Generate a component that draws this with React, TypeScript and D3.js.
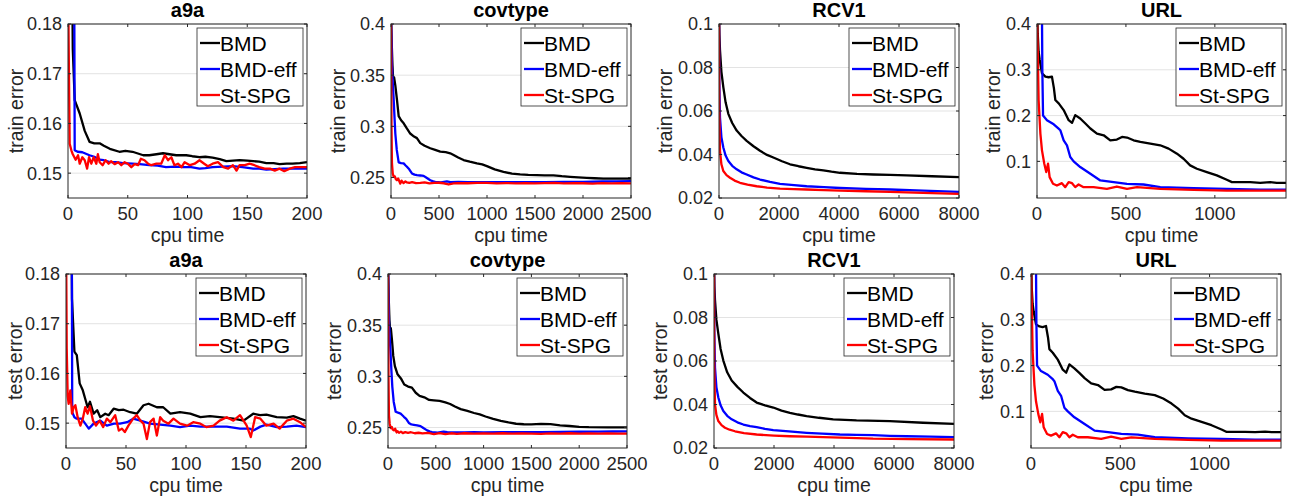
import React from "react";
import * as d3 from "d3";

type Pt = [number, number];

// ---- a9a ----
const a9aTrainBMD: Pt[] = [[3.5,0.19],[4,0.175],[5.6,0.1647],[9.8,0.162],[14,0.1585],[18,0.1563],[22,0.156],[26.5,0.156],[30,0.1555],[35,0.1549],[43,0.1543],[48,0.1545],[54,0.1543],[63,0.1536],[68,0.1536],[74,0.1538],[79.5,0.154],[85,0.1538],[90.6,0.1536],[99,0.1536],[104,0.1534],[110,0.1532],[115,0.1533],[121,0.1531],[127,0.1528],[132.5,0.1524],[138,0.1525],[143.6,0.1526],[150,0.1525],[155,0.1524],[160,0.1523],[166,0.152],[172,0.152],[177,0.1518],[183,0.1519],[188,0.1519],[194,0.152],[200,0.1522]];
const a9aTrainEff: Pt[] = [[5.2,0.19],[5.6,0.1546],[8,0.1543],[12,0.1542],[18,0.1536],[22,0.1533],[26.5,0.1527],[30,0.1526],[35,0.1522],[40,0.1522],[46,0.152],[54,0.1519],[60,0.1518],[68,0.1516],[75,0.1515],[82,0.1512],[90,0.1513],[96,0.1512],[103,0.1512],[110,0.1509],[115,0.151],[121,0.1512],[130,0.1513],[138,0.1514],[146,0.1512],[155,0.1509],[160,0.1509],[166,0.1507],[173,0.1508],[180,0.1509],[190,0.1509],[200,0.1509]];
const a9aTrainSPG: Pt[] = [[0,0.19],[0.8,0.17],[1.4,0.1559],[2.8,0.1546],[4,0.1538],[6.4,0.1527],[8.4,0.1536],[9.8,0.1519],[12,0.1532],[14,0.1526],[16,0.1509],[17.6,0.1532],[19.5,0.1519],[21.5,0.1532],[23.7,0.1519],[25,0.1538],[26.5,0.1522],[29,0.1516],[31.5,0.1526],[34,0.1519],[36,0.1524],[39,0.1518],[42,0.1522],[44.6,0.1516],[47.4,0.1522],[50,0.1519],[53,0.1512],[55.8,0.1518],[58.6,0.1516],[61,0.1529],[64,0.1526],[67,0.1519],[69.7,0.1516],[74,0.1519],[78,0.1519],[81,0.1536],[83.7,0.1526],[86.5,0.1532],[89,0.1516],[92,0.1519],[95,0.1512],[97.6,0.1522],[102,0.1516],[106,0.1519],[110,0.1526],[114,0.1519],[117,0.1514],[121,0.1519],[125.5,0.1522],[130,0.1512],[134,0.1509],[138,0.1516],[141,0.1505],[143.6,0.1516],[148,0.1516],[152,0.1519],[156,0.1516],[160,0.1512],[164.6,0.1509],[169,0.1509],[173,0.1505],[177,0.1509],[181,0.1504],[185.5,0.1509],[190,0.1512],[194,0.1512],[200,0.1512]];

const a9aTestBMD: Pt[] = [[4.6,0.19],[5,0.175],[7,0.1644],[9,0.1637],[11.4,0.158],[14,0.1566],[16,0.1549],[18,0.1532],[20,0.1543],[23,0.1519],[26,0.1526],[28.6,0.1512],[32.7,0.1519],[35.5,0.1516],[39.7,0.1529],[44,0.1526],[48,0.1527],[53.5,0.1522],[59,0.1519],[64.6,0.1536],[68.8,0.1539],[75.7,0.1532],[81,0.1532],[87,0.1519],[95,0.1522],[103.5,0.1519],[112,0.1512],[120,0.1514],[128,0.1512],[139.5,0.1509],[148,0.1505],[156,0.1519],[161.7,0.1516],[167,0.1517],[175.6,0.1512],[184,0.1511],[189.5,0.1514],[195,0.1509],[200,0.1505]];
const a9aTestEff: Pt[] = [[4.8,0.19],[5.2,0.1522],[7,0.1512],[9,0.1509],[13,0.1509],[16,0.1499],[19,0.1489],[23,0.1499],[28.6,0.1505],[34,0.1495],[40,0.1499],[45,0.1499],[51,0.1502],[56,0.1509],[62,0.1505],[70,0.1499],[78.5,0.1497],[87,0.1495],[95,0.1492],[103.5,0.1495],[112,0.1493],[123,0.1493],[134,0.1493],[145,0.1489],[153,0.1489],[156,0.1485],[162,0.1493],[167,0.1497],[175.6,0.1492],[184,0.1493],[192,0.1495],[200,0.1492]];
const a9aTestSPG: Pt[] = [[0,0.19],[0.6,0.165],[1.4,0.1555],[2.2,0.1539],[3.6,0.1566],[5,0.1519],[6.4,0.1532],[7.8,0.1536],[9.7,0.1512],[12,0.1495],[14,0.1509],[16,0.1532],[18,0.1519],[20,0.1534],[22.5,0.1505],[25,0.1495],[28,0.1505],[31,0.1492],[34,0.1509],[37,0.1502],[41,0.1516],[44,0.1485],[46.6,0.1489],[49,0.1482],[52,0.1495],[56,0.1509],[59,0.1516],[62,0.1505],[64.6,0.1499],[67.4,0.1468],[70,0.1502],[73,0.1509],[75.7,0.1475],[78.5,0.1512],[81,0.1505],[85.4,0.1499],[89.6,0.1509],[95,0.1499],[101,0.1495],[106,0.1502],[112,0.1499],[117,0.1492],[123,0.1495],[128,0.1505],[134,0.1512],[139.5,0.1505],[145,0.1516],[150.6,0.1495],[154,0.1472],[157.6,0.1512],[162,0.1509],[167,0.1495],[173,0.1499],[178,0.1489],[184,0.1505],[189.5,0.1509],[195,0.1502],[200,0.1492]];

// ---- covtype ----
const covTrainBMD: Pt[] = [[0,0.41],[8,0.38],[15,0.36],[22,0.347],[32,0.348],[45,0.34],[62,0.326],[80,0.31],[105,0.306],[132,0.303],[165,0.298],[200,0.293],[240,0.29],[270,0.2885],[305,0.2836],[350,0.281],[409,0.2786],[460,0.277],[513,0.2753],[570,0.2748],[617,0.2737],[652,0.272],[700,0.2695],[756,0.2671],[820,0.2655],[895,0.2638],[950,0.2628],[999,0.2612],[1080,0.258],[1172,0.2556],[1260,0.2538],[1345,0.253],[1430,0.2525],[1519,0.2523],[1600,0.2522],[1692,0.2522],[1780,0.2513],[1866,0.2507],[1950,0.2502],[2039,0.2497],[2120,0.2493],[2212,0.249],[2350,0.249],[2500,0.249]];
const covTrainEff: Pt[] = [[0,0.41],[10,0.359],[20,0.34],[28,0.326],[36,0.31],[45,0.293],[60,0.277],[80,0.2648],[105,0.264],[132,0.2638],[150,0.262],[166,0.2605],[190,0.258],[218,0.254],[245,0.2528],[270,0.2523],[305,0.252],[340,0.2516],[370,0.2498],[409,0.2474],[440,0.2462],[461,0.2457],[520,0.2452],[582,0.2462],[620,0.2455],[700,0.2457],[800,0.2454],[900,0.2456],[1000,0.2455],[1200,0.2456],[1400,0.2455],[1600,0.2456],[1800,0.2457],[2000,0.2458],[2200,0.2461],[2350,0.2463],[2500,0.2464]];
const covTrainSPG: Pt[] = [[0,0.41],[5,0.3],[10,0.2638],[18,0.254],[28,0.2507],[40,0.251],[50,0.2485],[62,0.2474],[75,0.249],[90,0.2455],[97,0.244],[110,0.247],[130,0.2445],[150,0.2462],[166,0.2452],[190,0.2448],[220,0.2455],[260,0.2445],[305,0.2447],[350,0.2452],[400,0.2442],[450,0.2447],[500,0.2449],[550,0.2444],[600,0.2432],[652,0.2442],[700,0.2446],[800,0.2444],[900,0.2447],[1000,0.2447],[1100,0.2443],[1200,0.2446],[1300,0.2443],[1400,0.2446],[1500,0.2442],[1600,0.2445],[1700,0.2447],[1800,0.2443],[1900,0.2446],[2000,0.2444],[2100,0.2441],[2200,0.2445],[2300,0.2443],[2400,0.2446],[2500,0.2442]];

const covTestBMD: Pt[] = [[0,0.41],[8,0.375],[15,0.355],[22,0.346],[30,0.347],[42,0.335],[55,0.32],[72,0.31],[100,0.302],[135,0.298],[170,0.292],[210,0.29],[250,0.289],[290,0.284],[330,0.281],[380,0.2795],[430,0.277],[480,0.2765],[540,0.276],[600,0.2745],[650,0.273],[700,0.2705],[760,0.268],[830,0.2662],[900,0.2642],[960,0.2628],[1020,0.2608],[1100,0.2585],[1180,0.2565],[1260,0.255],[1340,0.2537],[1420,0.2532],[1500,0.2531],[1600,0.2535],[1700,0.2533],[1800,0.2522],[1900,0.2515],[2000,0.2507],[2100,0.2503],[2300,0.2502],[2500,0.2502]];
const covTestEff: Pt[] = [[0,0.41],[10,0.355],[20,0.335],[28,0.32],[36,0.305],[45,0.29],[60,0.275],[80,0.2655],[105,0.2645],[132,0.2636],[150,0.262],[166,0.2605],[190,0.2585],[218,0.2545],[245,0.253],[270,0.2527],[305,0.2522],[340,0.2514],[370,0.2495],[409,0.2472],[440,0.246],[461,0.2455],[520,0.245],[582,0.246],[620,0.2455],[700,0.2453],[800,0.2453],[900,0.2454],[1000,0.2453],[1200,0.2454],[1400,0.2455],[1600,0.2455],[1800,0.2457],[2000,0.2459],[2200,0.246],[2350,0.2461],[2500,0.2462]];
const covTestSPG: Pt[] = [[0,0.41],[5,0.3],[10,0.262],[18,0.2535],[28,0.2495],[40,0.2505],[50,0.248],[62,0.2472],[75,0.2488],[90,0.2452],[100,0.2465],[115,0.2448],[135,0.246],[155,0.2445],[180,0.2455],[210,0.2448],[240,0.2454],[280,0.2444],[320,0.2449],[360,0.2443],[420,0.2447],[480,0.2436],[540,0.2446],[600,0.2435],[660,0.2444],[720,0.2438],[800,0.2444],[900,0.2441],[1000,0.2443],[1100,0.244],[1200,0.2444],[1300,0.244],[1400,0.2443],[1500,0.2441],[1600,0.2438],[1700,0.2443],[1800,0.2441],[1900,0.2444],[2000,0.244],[2100,0.2442],[2200,0.244],[2300,0.2443],[2400,0.2441],[2500,0.244]];

// ---- RCV1 ----
const rcvTrainBMD: Pt[] = [[0,0.105],[15,0.095],[33,0.088],[80,0.078],[144,0.071],[220,0.064],[311,0.0587],[440,0.0545],[589,0.051],[750,0.0485],[922,0.0463],[1150,0.0438],[1367,0.0417],[1600,0.0398],[1811,0.0386],[2100,0.0369],[2367,0.0355],[2650,0.0346],[2922,0.0339],[3200,0.0332],[3478,0.0327],[3750,0.0321],[4033,0.0316],[4600,0.0311],[5144,0.0308],[5700,0.0306],[6256,0.0304],[7100,0.03],[8000,0.0296]];
const rcvTrainEff: Pt[] = [[0,0.105],[10,0.075],[33,0.057],[80,0.048],[144,0.0432],[220,0.0395],[311,0.037],[440,0.0348],[589,0.0332],[750,0.0318],[922,0.0308],[1150,0.0295],[1367,0.0285],[1700,0.0274],[2033,0.0265],[2500,0.0259],[2922,0.0254],[3500,0.025],[4033,0.0246],[4900,0.0242],[5700,0.0239],[6800,0.0234],[8000,0.0228]];
const rcvTrainSPG: Pt[] = [[0,0.105],[8,0.06],[33,0.0417],[80,0.0355],[144,0.0324],[250,0.0305],[367,0.0293],[520,0.028],[700,0.027],[950,0.0261],[1256,0.0254],[1600,0.0248],[2033,0.0243],[2500,0.0241],[2922,0.0239],[3500,0.0236],[4033,0.0234],[4900,0.0231],[5700,0.0228],[6800,0.0224],[8000,0.0219]];

const rcvTestBMD: Pt[] = [[0,0.105],[15,0.094],[33,0.088],[80,0.079],[144,0.0726],[220,0.0655],[311,0.0602],[440,0.0548],[589,0.051],[780,0.0481],[977,0.0455],[1200,0.043],[1421,0.0409],[1700,0.0396],[1976,0.0386],[2250,0.0372],[2531,0.0362],[2800,0.0354],[3086,0.0347],[3500,0.0339],[3973,0.0332],[4750,0.0327],[5860,0.0324],[6970,0.0316],[8000,0.0311]];
const rcvTestEff: Pt[] = [[0,0.105],[10,0.075],[33,0.057],[80,0.048],[144,0.0432],[220,0.0396],[311,0.037],[440,0.0348],[589,0.0332],[780,0.0318],[977,0.0308],[1200,0.0301],[1421,0.0296],[1700,0.0288],[1976,0.0282],[2500,0.0276],[3086,0.027],[3600,0.0266],[4196,0.0262],[4750,0.026],[5305,0.0259],[5860,0.0256],[6415,0.0254],[7200,0.0252],[8000,0.025]];
const rcvTestSPG: Pt[] = [[0,0.105],[8,0.058],[33,0.0401],[80,0.0352],[144,0.0324],[250,0.0305],[366,0.0293],[520,0.0284],[700,0.0277],[1000,0.0268],[1421,0.0262],[2000,0.0257],[2531,0.0254],[3100,0.0252],[3640,0.025],[4500,0.0247],[5305,0.0243],[6500,0.0241],[8000,0.0239]];

// ---- URL ----
const urlTrainBMD: Pt[] = [[2,0.42],[4,0.38],[9,0.34],[15,0.322],[28,0.2924],[47,0.2851],[65.5,0.2837],[84,0.285],[95,0.26],[103,0.234],[122,0.2266],[150,0.212],[178,0.19],[197,0.1841],[215,0.201],[243,0.1937],[272,0.1827],[300,0.1717],[337,0.1607],[375,0.157],[412,0.146],[449,0.1476],[478,0.1534],[506,0.152],[543,0.146],[581,0.1424],[637,0.1388],[693,0.1351],[740,0.1278],[787,0.1168],[824,0.1058],[861,0.0912],[899,0.0839],[955,0.0766],[1011,0.0693],[1067,0.0598],[1096,0.0546],[1142,0.0546],[1199,0.0546],[1255,0.0532],[1311,0.0546],[1348,0.0532],[1400,0.0532]];
const urlTrainEff: Pt[] = [[28,0.42],[30,0.3],[34,0.2],[56,0.19],[94,0.181],[120,0.172],[131,0.168],[150,0.146],[168.5,0.135],[187,0.1095],[206,0.1],[243,0.0876],[300,0.0729],[356,0.0583],[431,0.0546],[506,0.051],[599,0.0495],[693,0.0437],[880,0.0415],[1067,0.04],[1255,0.0385],[1400,0.0385]];
const urlTrainSPG: Pt[] = [[0,0.42],[4,0.344],[9,0.234],[19,0.1607],[28,0.1241],[41,0.0949],[52,0.0766],[62,0.0949],[71,0.0656],[90,0.051],[112,0.0473],[140,0.0524],[159,0.0437],[178,0.0546],[197,0.0524],[215,0.0437],[234,0.0495],[262,0.0437],[318,0.0437],[393,0.04],[449,0.0451],[506,0.04],[562,0.0437],[693,0.04],[880,0.0378],[1067,0.0363],[1400,0.0363]];

const urlTestBMD: Pt[] = [[2,0.42],[4,0.37],[9,0.335],[15,0.318],[28,0.29],[47,0.2855],[65,0.284],[84,0.2865],[95,0.262],[103,0.236],[122,0.228],[150,0.213],[178,0.191],[197,0.1845],[215,0.2025],[243,0.194],[272,0.1835],[300,0.1725],[337,0.161],[375,0.1575],[412,0.147],[449,0.148],[478,0.1535],[506,0.1525],[543,0.1465],[581,0.143],[637,0.139],[693,0.1355],[740,0.128],[787,0.117],[824,0.106],[861,0.0915],[899,0.084],[955,0.077],[1011,0.0698],[1067,0.0603],[1096,0.055],[1142,0.0552],[1199,0.055],[1255,0.0548],[1311,0.0556],[1348,0.0545],[1400,0.0545]];
const urlTestEff: Pt[] = [[28,0.42],[30,0.3],[34,0.2],[56,0.188],[94,0.18],[120,0.171],[131,0.166],[150,0.145],[168.5,0.134],[187,0.108],[206,0.1],[243,0.087],[300,0.0725],[356,0.058],[431,0.0545],[506,0.0508],[599,0.049],[693,0.0435],[880,0.0412],[1067,0.04],[1255,0.0385],[1400,0.0383]];
const urlTestSPG: Pt[] = [[0,0.42],[4,0.34],[9,0.232],[19,0.158],[28,0.122],[41,0.094],[52,0.076],[62,0.0945],[71,0.0652],[90,0.0505],[112,0.047],[140,0.052],[159,0.0435],[178,0.0545],[197,0.052],[215,0.0435],[234,0.049],[262,0.0435],[318,0.0435],[393,0.0398],[449,0.0448],[506,0.0398],[562,0.0432],[693,0.0398],[880,0.0378],[1067,0.0362],[1400,0.036]];

const METHODS = ["BMD", "BMD-eff", "St-SPG"];
const COLORS = ["#000000", "#0000ff", "#ff0000"];

const a9aXTicks = [0, 50, 100, 150, 200];
const a9aYTicks = [0.15, 0.16, 0.17, 0.18];
const covXTicks = [0, 500, 1000, 1500, 2000, 2500];
const covYTicks = [0.25, 0.3, 0.35, 0.4];
const rcvXTicks = [0, 2000, 4000, 6000, 8000];
const rcvYTicks = [0.02, 0.04, 0.06, 0.08, 0.1];
const urlXTicks = [0, 500, 1000];
const urlYTicks = [0.1, 0.2, 0.3, 0.4];

type PanelDef = {
  title: string;
  ylabel: string;
  xDomain: [number, number];
  yDomain: [number, number];
  xTicks: number[];
  yTicks: number[];
  series: Pt[][];
  box: { left: number; right: number; top: number; bottom: number };
  labelX: number;
};

const PANELS: PanelDef[] = [
  { title: "a9a", ylabel: "train error", xDomain: [0, 200], yDomain: [0.145, 0.18], xTicks: a9aXTicks, yTicks: a9aYTicks, series: [a9aTrainBMD, a9aTrainEff, a9aTrainSPG], box: { left: 68, right: 307, top: 24, bottom: 198 }, labelX: 23 },
  { title: "covtype", ylabel: "train error", xDomain: [0, 2500], yDomain: [0.23, 0.4], xTicks: covXTicks, yTicks: covYTicks, series: [covTrainBMD, covTrainEff, covTrainSPG], box: { left: 391, right: 631, top: 24, bottom: 198 }, labelX: 345 },
  { title: "RCV1", ylabel: "train error", xDomain: [0, 8000], yDomain: [0.02, 0.1], xTicks: rcvXTicks, yTicks: rcvYTicks, series: [rcvTrainBMD, rcvTrainEff, rcvTrainSPG], box: { left: 719, right: 959, top: 24, bottom: 198 }, labelX: 672 },
  { title: "URL", ylabel: "train error", xDomain: [0, 1400], yDomain: [0.02, 0.4], xTicks: urlXTicks, yTicks: urlYTicks, series: [urlTrainBMD, urlTrainEff, urlTrainSPG], box: { left: 1037, right: 1286, top: 24, bottom: 198 }, labelX: 1000 },
  { title: "a9a", ylabel: "test error", xDomain: [0, 200], yDomain: [0.145, 0.18], xTicks: a9aXTicks, yTicks: a9aYTicks, series: [a9aTestBMD, a9aTestEff, a9aTestSPG], box: { left: 66, right: 306, top: 274, bottom: 448 }, labelX: 22 },
  { title: "covtype", ylabel: "test error", xDomain: [0, 2500], yDomain: [0.23, 0.4], xTicks: covXTicks, yTicks: covYTicks, series: [covTestBMD, covTestEff, covTestSPG], box: { left: 388, right: 627, top: 274, bottom: 448 }, labelX: 341 },
  { title: "RCV1", ylabel: "test error", xDomain: [0, 8000], yDomain: [0.02, 0.1], xTicks: rcvXTicks, yTicks: rcvYTicks, series: [rcvTestBMD, rcvTestEff, rcvTestSPG], box: { left: 714, right: 954, top: 274, bottom: 448 }, labelX: 667 },
  { title: "URL", ylabel: "test error", xDomain: [0, 1400], yDomain: [0.02, 0.4], xTicks: urlXTicks, yTicks: urlYTicks, series: [urlTestBMD, urlTestEff, urlTestSPG], box: { left: 1031, right: 1281, top: 274, bottom: 448 }, labelX: 993 },
];

const FONT = "'Liberation Sans', Arial, Helvetica, sans-serif";
const AXIS = "#262626";

function Panel({ p, idx }: { p: PanelDef; idx: number }) {
  const { left, right, top, bottom } = p.box;
  const x = d3.scaleLinear().domain(p.xDomain).range([left, right]);
  const y = d3.scaleLinear().domain(p.yDomain).range([bottom, top]);
  const lineGen = d3.line<Pt>().x((d) => x(d[0])).y((d) => y(d[1]));
  const clipId = `clip-${idx}`;
  const legW = 106;
  const legH = 78;
  const legX = right - 4 - legW;
  const legY = top + 4;
  const fmt = (v: number) => String(+v.toFixed(4));

  return (
    <g>
      <defs>
        <clipPath id={clipId}>
          <rect x={left} y={top} width={right - left} height={bottom - top} />
        </clipPath>
      </defs>
      <rect x={left} y={top} width={right - left} height={bottom - top} fill="#fff" />
      {/* y grid */}
      {p.yTicks.map((t) => (
        <line key={t} x1={left} x2={right} y1={y(t)} y2={y(t)} stroke="#e3e3e3" strokeWidth={1} />
      ))}
      {/* lines */}
      <g clipPath={`url(#${clipId})`}>
        {p.series.map((s, i) => (
          <path key={i} d={lineGen(s) || ""} fill="none" stroke={COLORS[i]} strokeWidth={2.3} strokeLinejoin="round" />
        ))}
      </g>
      {/* box */}
      <rect x={left} y={top} width={right - left} height={bottom - top} fill="none" stroke={AXIS} strokeWidth={1} />
      {/* ticks */}
      {p.xTicks.map((t) => (
        <g key={t}>
          <line x1={x(t)} x2={x(t)} y1={bottom} y2={bottom - 3} stroke={AXIS} />
          <line x1={x(t)} x2={x(t)} y1={top} y2={top + 3} stroke={AXIS} />
          <text x={x(t)} y={bottom + 22} textAnchor="middle" fontSize={18.5} fontFamily={FONT} fill={AXIS}>
            {t}
          </text>
        </g>
      ))}
      {p.yTicks.map((t) => (
        <g key={t}>
          <line x1={left} x2={left + 3} y1={y(t)} y2={y(t)} stroke={AXIS} />
          <line x1={right} x2={right - 3} y1={y(t)} y2={y(t)} stroke={AXIS} />
          <text x={left - 6} y={y(t)} dy="0.36em" textAnchor="end" fontSize={18} fontFamily={FONT} fill={AXIS}>
            {fmt(t)}
          </text>
        </g>
      ))}
      {/* title & labels */}
      <text x={(left + right) / 2} y={top - 7} textAnchor="middle" fontSize={20} fontWeight="bold" fontFamily={FONT} fill="#000">
        {p.title}
      </text>
      <text x={(left + right) / 2} y={bottom + 44} textAnchor="middle" fontSize={19.5} fontFamily={FONT} fill={AXIS}>
        cpu time
      </text>
      <text transform={`translate(${p.labelX},${(top + bottom) / 2}) rotate(-90)`} textAnchor="middle" fontSize={19.5} fontFamily={FONT} fill={AXIS}>
        {p.ylabel}
      </text>
      {/* legend */}
      <rect x={legX} y={legY} width={legW} height={legH} fill="#fff" stroke={AXIS} strokeWidth={0.8} />
      {METHODS.map((m, i) => {
        const cy = legY + 15 + i * 26;
        return (
          <g key={m}>
            <line x1={legX + 3} x2={legX + 23} y1={cy} y2={cy} stroke={COLORS[i]} strokeWidth={2.3} />
            <text x={legX + 23} y={cy} dy="0.36em" fontSize={21} fontFamily={FONT} fill="#000">
              {m}
            </text>
          </g>
        );
      })}
    </g>
  );
}

export default function App() {
  return (
    <svg width={1289} height={501} style={{ position: "absolute", left: 0, top: 0, background: "#fff" }}>
      <rect width={1289} height={501} fill="#fff" />
      {PANELS.map((p, i) => (
        <Panel key={i} p={p} idx={i} />
      ))}
    </svg>
  );
}
